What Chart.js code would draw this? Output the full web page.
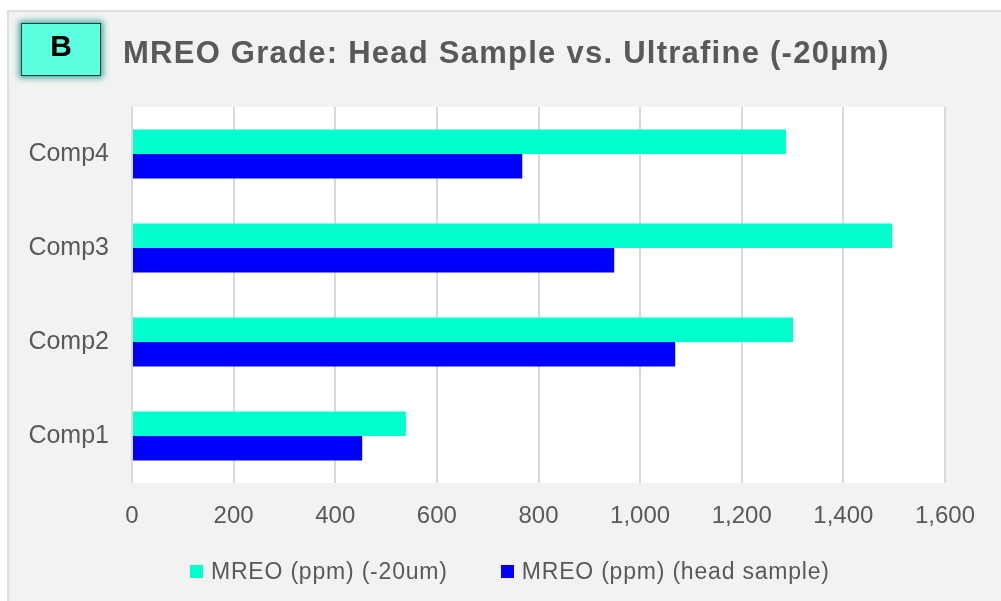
<!DOCTYPE html>
<html><head><meta charset="utf-8">
<script src="https://cdn.jsdelivr.net/npm/chart.js@4.4.0/dist/chart.umd.min.js"></script>
<style>
html,body{margin:0;padding:0;background:#fff;width:1001px;height:601px;overflow:hidden;font-family:"Liberation Sans",Arial,sans-serif;}
#panel{position:absolute;left:7px;top:10px;width:1010px;height:610px;background:#f2f2f2;border:2px solid #dedede;box-sizing:border-box;}
#badge{position:absolute;left:21px;top:23px;width:80px;height:53px;box-sizing:border-box;background:#5cffe0;border:1px solid #2b3b38;box-shadow:0 0 6px 2px #3aa89c;font-weight:bold;font-size:30px;text-align:center;line-height:44px;color:#000;}
#title{position:absolute;left:123px;top:37px;font-size:31px;font-weight:bold;color:#595959;letter-spacing:1.25px;line-height:31px;white-space:nowrap;}
#chart{position:absolute;left:0;top:0;}
#legend{position:absolute;left:190px;top:557px;display:flex;font-size:23px;color:#595959;line-height:28px;white-space:nowrap;letter-spacing:0.8px;}
#legend .item{display:flex;align-items:center;margin-right:53px;}
#legend .box{width:13px;height:13px;margin-right:8px;}
</style>
</head>
<body>
<div id="panel"></div>
<canvas id="chart" width="1001" height="601"></canvas>
<div id="badge">B</div>
<div id="title">MREO Grade: Head Sample vs. Ultrafine (-20µm)</div>
<div id="legend"></div>
<script>
const categories = ['Comp4', 'Comp3', 'Comp2', 'Comp1'];
const seriesNames = ['MREO (ppm) (-20um)', 'MREO (ppm) (head sample)'];
const ultrafineValues = [1287, 1496, 1301, 539];
const headSampleValues = [768, 949, 1069, 453];
const xTickValues = [0, 200, 400, 600, 800, 1000, 1200, 1400, 1600];
const seriesColors = ['#00ffcc', '#0000ff'];

Chart.defaults.font.family = '"Liberation Sans", Arial, sans-serif';
Chart.defaults.font.size = 24;
Chart.defaults.color = '#595959';

const plotBg = {
  id: 'plotBg',
  beforeDraw(chart) {
    const {ctx, chartArea: a} = chart;
    ctx.save();
    ctx.fillStyle = '#ffffff';
    ctx.fillRect(a.left, a.top, a.right - a.left, a.bottom - a.top);
    ctx.restore();
  }
};

const chart = new Chart(document.getElementById('chart'), {
  type: 'bar',
  data: {
    labels: categories,
    datasets: [
      {label: seriesNames[0], data: ultrafineValues, backgroundColor: seriesColors[0], borderWidth: 0},
      {label: seriesNames[1], data: headSampleValues, backgroundColor: seriesColors[1], borderWidth: 0}
    ]
  },
  options: {
    indexAxis: 'y',
    responsive: false,
    animation: false,
    devicePixelRatio: 1,
    categoryPercentage: 0.52,
    barPercentage: 1.0,
    layout: {padding: {left: 20, right: 56, top: 107, bottom: 58}},
    plugins: {legend: {display: false}, tooltip: {enabled: false}},
    scales: {
      x: {
        min: xTickValues[0],
        max: xTickValues[xTickValues.length - 1],
        afterBuildTicks(scale) { scale.ticks = xTickValues.map(v => ({value: v})); },
        afterFit(scale) { scale.height = 60; },
        ticks: {padding: 19, maxRotation: 0, font: {size: 24}, callback: v => Number(v).toLocaleString('en-US')},
        grid: {color: '#d9d9d9', lineWidth: 2, drawTicks: false},
        border: {display: false}
      },
      y: {
        afterFit(scale) { scale.width = 112; },
        ticks: {padding: 23, font: {size: 25}},
        grid: {display: false, drawTicks: false},
        border: {display: false}
      }
    }
  },
  plugins: [plotBg]
});

const legendEl = document.getElementById('legend');
chart.data.datasets.forEach(ds => {
  const item = document.createElement('div');
  item.className = 'item';
  const box = document.createElement('span');
  box.className = 'box';
  box.style.background = ds.backgroundColor;
  const txt = document.createElement('span');
  txt.textContent = ds.label;
  item.appendChild(box);
  item.appendChild(txt);
  legendEl.appendChild(item);
});
</script>
</body></html>
